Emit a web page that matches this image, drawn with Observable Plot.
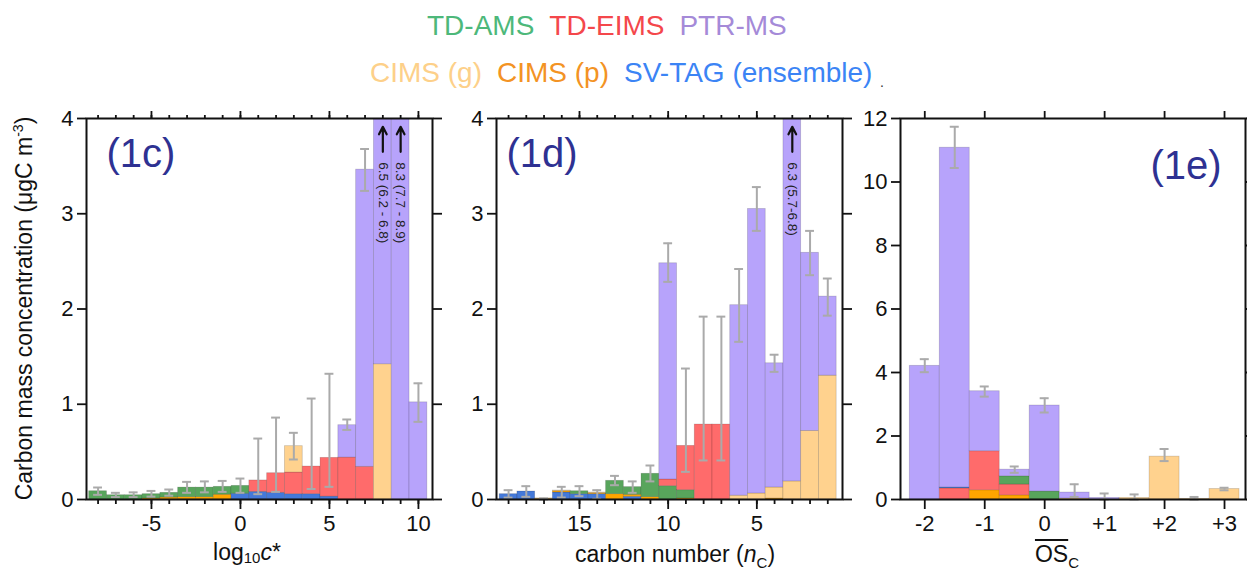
<!DOCTYPE html>
<html><head><meta charset="utf-8">
<script src="https://cdn.jsdelivr.net/npm/d3@7"></script>
<script src="https://cdn.jsdelivr.net/npm/@observablehq/plot@0.6"></script>
<style>
body{margin:0;width:1247px;height:569px;overflow:hidden;background:#fff;position:relative;font-family:"Liberation Sans",Arial,sans-serif;color:#111}
.legend{position:absolute;font-size:28px;line-height:28px;white-space:nowrap;display:flex;gap:15px}
.atitle{position:absolute;font-size:23px;line-height:23px;text-align:center;white-space:nowrap;color:#111}
.panel{position:absolute;top:100px}
</style></head><body>
<div id="leg1" class="legend" style="left:427px;top:12px"></div>
<div id="leg2" class="legend" style="left:370px;top:59px"></div>
<div style="position:absolute;left:880px;top:74px;font-size:14px;color:#333">.</div>
<div class="atitle" style="left:-176px;top:297px;width:400px;transform:rotate(-90deg)">Carbon mass concentration (μgC m<sup style="font-size:14px;line-height:0">-3</sup>)</div>
<div class="atitle" style="left:147px;top:541px;width:200px">log<sub style="font-size:15px;line-height:0;vertical-align:-3px">10</sub><i>c</i>*</div>
<div class="atitle" style="left:575px;top:543px;width:200px">carbon number (<i>n</i><sub style="font-size:15px;line-height:0">C</sub>)</div>
<div class="atitle" style="left:957px;top:543px;width:200px"><span style="text-decoration:overline">OS</span><sub style="font-size:15px;line-height:0">C</sub></div>
<div id="p1c" class="panel" style="left:0px"></div>
<div id="p1d" class="panel" style="left:450px"></div>
<div id="p1e" class="panel" style="left:860px"></div>
<script>
// ---------- series ----------
const seriesNames = ["SV-TAG (ensemble)", "CIMS (p)", "TD-AMS", "TD-EIMS", "CIMS (g)", "PTR-MS"];
const legendRow1 = ["TD-AMS", "TD-EIMS", "PTR-MS"];
const legendRow2 = ["CIMS (g)", "CIMS (p)", "SV-TAG (ensemble)"];

// ---------- panel 1c : log10 c* ----------
const bins1c   = [-8,-7,-6,-5,-4,-3,-2,-1,0,1,2,3,4,5,6,7,8,9,10];
const svtag1c  = [0,0,0,0,0,0,0,0,0.06,0.08,0.07,0.056,0.056,0.03,0,0,0,0,0];
const cimsP1c  = [0,0,0,0.01,0.02,0.025,0.025,0.05,0,0,0,0,0,0,0,0,0,0,0];
const tdams1c  = [0.087,0.045,0.045,0.046,0.05,0.1,0.1,0.083,0.083,0,0,0,0,0,0,0,0,0,0];
const tdeims1c = [0,0,0,0,0,0,0,0,0,0.12,0.206,0.227,0.29,0.407,0.44,0.343,0,0,0];
const cimsG1c  = [0,0,0,0,0,0,0,0,0,0,0,0.277,0,0,0,0,1.42,0,0];
const ptr1c    = [0,0,0,0,0,0,0,0,0,0,0,0,0,0,0.34,3.12,5.08,8.3,1.02];
const errLo1c  = [0.049,0.025,0.025,0.03,0.04,0.07,0.075,0.08,0.07,0.056,0.08,0.42,0.11,0.133,0.73,3.24,null,null,0.815];
const errHi1c  = [0.126,0.07,0.075,0.09,0.105,0.185,0.19,0.195,0.22,0.64,0.86,0.70,1.06,1.32,0.84,3.68,null,null,1.22];
const offBins1c = [8, 9];
const offText1c = ["6.5 (6.2 - 6.8)", "8.3 (7.7 - 8.9)"];
const yTicks1c = [0,1,2,3,4];
const xMajor1c = [-5,0,5,10];
const xMinor1c = [-8,-7,-6,-5,-4,-3,-2,-1,0,1,2,3,4,5,6,7,8,9,10];

// ---------- panel 1d : carbon number ----------
const bins1d   = [19,18,17,16,15,14,13,12,11,10,9,8,7,6,5,4,3,2,1];
const svtag1d  = [0.056,0.084,0,0.073,0.056,0.056,0,0.028,0,0,0,0,0,0,0,0,0,0,0];
const cimsP1d  = [0,0,0.006,0.014,0,0.01,0.056,0.021,0.025,0,0.01,0,0,0,0,0.01,0,0,0];
const tdams1d  = [0,0,0,0,0.031,0,0.14,0.081,0.245,0.14,0.088,0,0,0,0,0,0,0,0];
const tdeims1d = [0,0,0,0,0,0,0,0,0,0.07,0.465,0.787,0.787,0,0,0,0,0,0];
const cimsG1d  = [0,0,0.006,0.007,0,0.007,0,0,0,0,0,0,0,0.04,0.063,0.116,0.19,0.72,1.30];
const ptr1d    = [0,0,0,0,0,0,0,0,0,2.27,0,0,0,2.0,2.987,1.304,6.11,1.87,0.83];
const errLo1d  = [0.02,0.028,0,0.021,0.035,0.007,0.15,0.07,0.19,2.285,0.29,0.41,0.41,1.655,2.82,1.34,null,2.355,1.93];
const errHi1d  = [0.098,0.14,0.012,0.133,0.14,0.098,0.248,0.19,0.357,2.69,1.375,1.92,1.92,2.42,3.28,1.52,null,2.82,2.32];
const offBins1d = [3];
const offText1d = ["6.3 (5.7-6.8)"];
const yTicks1d = [0,1,2,3,4];
const xMajor1d = [15,10,5];
const xMinor1d = [19,18,17,16,15,14,13,12,11,10,9,8,7,6,5,4,3,2,1];

// ---------- panel 1e : OSc ----------
const bins1e   = [-2,-1.5,-1,-0.5,0,0.5,1,1.5,2,2.5,3];
const cimsP1e  = [0,0,0.29,0.13,0,0,0,0,0,0,0];
const tdeims1e = [0,0.35,1.23,0.34,0,0,0,0,0,0,0];
const svtag1e  = [0,0.03,0,0,0,0,0,0,0,0,0];
const tdams1e  = [0,0,0,0.26,0.25,0,0,0,0,0,0];
const cimsG1e  = [0,0,0,0,0,0.03,0,0.05,1.35,0.02,0.33];
const ptr1e    = [4.21,10.70,1.89,0.21,2.71,0.19,0.05,0,0,0,0];
const errLo1e  = [4.01,10.44,3.24,0.84,2.74,0.08,0,0,1.21,0,0.29];
const errHi1e  = [4.42,11.74,3.56,1.04,3.19,0.48,0.19,0.16,1.59,0.08,0.37];
const yTicks1e = [0,2,4,6,8,10,12];
const xMajor1e = [-2,-1,0,1,2,3];

// ---------- styles ----------
const fillColors = {"SV-TAG (ensemble)":"#4479d9","CIMS (p)":"#ffa500","TD-AMS":"#58a55c","TD-EIMS":"#ff6b6b","CIMS (g)":"#ffd28e","PTR-MS":"#b7a3fb"};
const textColors = {"TD-AMS":"#4db87a","TD-EIMS":"#f4474b","PTR-MS":"#a58ad8","CIMS (g)":"#fdd089","CIMS (p)":"#f39324","SV-TAG (ensemble)":"#3b84f5"};

function fillLegend(id, names){
  const el = document.getElementById(id);
  names.forEach(n => { const s = document.createElement("span"); s.textContent = n; s.style.color = textColors[n]; el.appendChild(s); });
}
fillLegend("leg1", legendRow1);
fillLegend("leg2", legendRow2);

const FONT = "'Liberation Sans', Arial, sans-serif";

function makePanel(cfg){
  const table = [];
  cfg.bins.forEach((b,i) => cfg.order.forEach(name => {
    const v = cfg.values[name][i];
    if (v > 0) table.push({x:b, s:name, v});
  }));
  const errs = cfg.bins.map((b,i) => ({x:b, lo:cfg.lo[i], hi:cfg.hi[i]})).filter(d => d.lo != null);
  const annots = (cfg.offBins||[]).map((b,i) => ({x:b, text:cfg.offText[i]}));
  const yTop = cfg.yDomain[1];
  const noText = () => "";
  const marks = [
    Plot.rectY(table, {x1: d => d.x - cfg.half, x2: d => d.x + cfg.half, y: "v", fill: "s", stroke: "#000", strokeOpacity: 0.18, strokeWidth: 0.8, clip: true}),
    Plot.ruleX(errs, {x: "x", y1: "lo", y2: "hi", stroke: "#aaaaaa", strokeWidth: 2}),
    Plot.ruleY(errs, {y: "lo", x1: d => d.x - cfg.cap, x2: d => d.x + cfg.cap, stroke: "#aaaaaa", strokeWidth: 2}),
    Plot.ruleY(errs, {y: "hi", x1: d => d.x - cfg.cap, x2: d => d.x + cfg.cap, stroke: "#aaaaaa", strokeWidth: 2}),
    Plot.arrow(annots, {x: "x", y1: yTop*0.9125, y2: yTop*0.978, stroke: "#111", strokeWidth: 2.2, headLength: 7, headAngle: 55}),
    Plot.text(annots, {x: "x", y: yTop*0.885, text: "text", rotate: 90, textAnchor: "start", fontSize: 13.5, fill: "#222"}),
    Plot.text([cfg.label], {text: d => d, frameAnchor: "top-left", dx: cfg.labelDx, dy: cfg.labelDy, fontSize: 40, fill: "#2e3192", textAnchor: "start", lineAnchor: "top"}),
    Plot.frame({stroke: "#111", strokeWidth: 2}),
    Plot.axisY({anchor: "left", ticks: cfg.yTicks, tickSize: 9, tickPadding: 4, fontSize: 22, strokeWidth: 1.8, label: null, tickFormat: d => String(d)}),
    Plot.axisY({anchor: "right", ticks: cfg.yTicks, tickSize: 9, strokeWidth: 1.8, label: null, tickFormat: noText}),
    Plot.axisX({anchor: "bottom", ticks: cfg.xMajor, tickSize: 10, tickPadding: 6, fontSize: 22, strokeWidth: 1.8, label: null, tickFormat: cfg.fmt}),
    Plot.axisX({anchor: "top", ticks: cfg.xMajor, tickSize: 8, strokeWidth: 1.8, label: null, tickFormat: noText})
  ];
  if (cfg.xMinor) {
    marks.push(Plot.axisX({anchor: "bottom", ticks: cfg.xMinor, tickSize: 5, strokeWidth: 1.8, label: null, tickFormat: noText}));
    marks.push(Plot.axisX({anchor: "top", ticks: cfg.xMinor, tickSize: 4, strokeWidth: 1.8, label: null, tickFormat: noText}));
  }
  const chart = Plot.plot({
    width: cfg.width, height: 469,
    marginLeft: cfg.ml, marginRight: cfg.mr, marginTop: 18, marginBottom: 70,
    x: {domain: cfg.xDomain},
    y: {domain: cfg.yDomain},
    color: {domain: seriesNames, range: seriesNames.map(n => fillColors[n])},
    style: {fontFamily: FONT, fontSize: "22px", color: "#111", background: "transparent"},
    marks
  });
  document.getElementById(cfg.id).appendChild(chart);
}

const dash = d => d < 0 ? "-" + Math.abs(d) : String(d);

makePanel({
  id: "p1c", width: 450, ml: 86, mr: 18, xDomain: [-8.65, 10.79], yDomain: [0,4],
  bins: bins1c, order: seriesNames,
  values: {"SV-TAG (ensemble)": svtag1c, "CIMS (p)": cimsP1c, "TD-AMS": tdams1c, "TD-EIMS": tdeims1c, "CIMS (g)": cimsG1c, "PTR-MS": ptr1c},
  lo: errLo1c, hi: errHi1c, offBins: offBins1c, offText: offText1c,
  yTicks: yTicks1c, xMajor: xMajor1c, xMinor: xMinor1c, fmt: dash,
  half: 0.5, cap: 0.25, label: "(1c)", labelDx: 20, labelDy: 20
});
makePanel({
  id: "p1d", width: 410, ml: 46, mr: 18, xDomain: [19.68, 0.17], yDomain: [0,4],
  bins: bins1d, order: seriesNames,
  values: {"SV-TAG (ensemble)": svtag1d, "CIMS (p)": cimsP1d, "TD-AMS": tdams1d, "TD-EIMS": tdeims1d, "CIMS (g)": cimsG1d, "PTR-MS": ptr1d},
  lo: errLo1d, hi: errHi1d, offBins: offBins1d, offText: offText1d,
  yTicks: yTicks1d, xMajor: xMajor1d, xMinor: xMinor1d, fmt: dash,
  half: 0.5, cap: 0.25, label: "(1d)", labelDx: 10, labelDy: 20
});
makePanel({
  id: "p1e", width: 387, ml: 40, mr: 2, xDomain: [-2.405, 3.35], yDomain: [0,12],
  bins: bins1e, order: ["CIMS (p)", "TD-EIMS", "SV-TAG (ensemble)", "TD-AMS", "CIMS (g)", "PTR-MS"],
  values: {"SV-TAG (ensemble)": svtag1e, "CIMS (p)": cimsP1e, "TD-AMS": tdams1e, "TD-EIMS": tdeims1e, "CIMS (g)": cimsG1e, "PTR-MS": ptr1e},
  lo: errLo1e, hi: errHi1e, offBins: [], offText: [],
  yTicks: yTicks1e, xMajor: xMajor1e, xMinor: null, fmt: d => d > 0 ? "+" + d : dash(d),
  half: 0.25, cap: 0.075, label: "(1e)", labelDx: 250, labelDy: 32
});
</script>
</body></html>
